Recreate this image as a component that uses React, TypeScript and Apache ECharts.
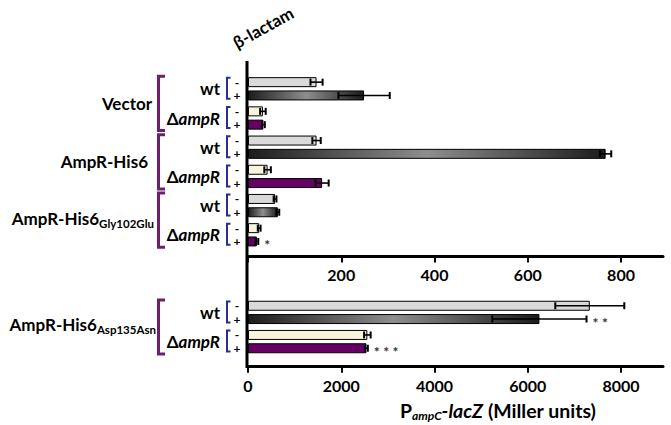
import React, { useEffect, useRef } from 'react';
import * as echarts from 'echarts';

// ---------- data ----------
const groups = ['Vector', 'AmpR-His6', 'AmpR-His6|Gly102Glu', 'AmpR-His6|Asp135Asn'];
const strains = ['wt', 'ΔampR'];
const topPairs = ['Vector wt', 'Vector ΔampR', 'AmpR-His6 wt', 'AmpR-His6 ΔampR', 'Gly102Glu wt', 'Gly102Glu ΔampR'];
const topMinus = [147, 32, 147, 42, 58, 24];
const topMinusErr = [13, 6, 9, 7, 3, 3];
const topPlus = [249, 33, 767, 159, 64, 19];
const topPlusErr = [55, 3, 12, 14, 3, 3];
const topPlusStars = ['', '', '', '', '', '*'];
const bottomPairs = ['Asp135Asn wt', 'Asp135Asn ΔampR'];
const bottomMinus = [7330, 2560];
const bottomMinusErr = [740, 70];
const bottomPlus = [6250, 2540];
const bottomPlusErr = [1010, 30];
const bottomPlusStars = ['* *', '* * *'];
const topTicks = [0, 200, 400, 600, 800];
const topTickLabels = [200, 400, 600, 800];
const bottomTicks = [0, 2000, 4000, 6000, 8000];
const topRange = { min: 0, max: 890 };
const bottomRange = { min: 0, max: 8900 };

// ---------- layout ----------
const LEFT = 248;
const WIDTH = 415;
const TOP_Y = 74.2;
const PAIR_H = 29.2;
const BOT_Y = 297.8;
const BAR_W = 10;
const HALF = (BAR_W * 1.33) / 2;
const FONT = 'Lato';

const darkGrad = () =>
  new echarts.graphic.LinearGradient(0, 0, 1, 0, [
    { offset: 0, color: '#1c1c1c' },
    { offset: 0.5, color: '#8e8e8e' },
    { offset: 1, color: '#1c1c1c' },
  ]);
const minusColor = (k: number) => (k % 2 === 0 ? '#d9d9d9' : '#f8f5dc');
const plusColor = (k: number) => (k % 2 === 0 ? darkGrad() : '#660066');

const barSeries = (vals: number[], colorFn: (k: number) => any, axis: number) => ({
  type: 'bar',
  xAxisIndex: axis,
  yAxisIndex: axis,
  barWidth: BAR_W,
  barGap: '33%',
  data: vals.map((v, i) => ({ value: v, itemStyle: { color: colorFn(i) } })),
  itemStyle: { borderColor: '#000', borderWidth: 1 },
  silent: true,
});

const errSeries = (vals: number[], errs: number[], sign: number, stars: string[] | null, axis: number) => ({
  type: 'custom',
  xAxisIndex: axis,
  yAxisIndex: axis,
  silent: true,
  z: 5,
  data: vals.map((v, i) => [i, v - errs[i], v + errs[i]]),
  encode: { x: [1, 2], y: 0 },
  renderItem: (params: any, api: any) => {
    const idx = api.value(0);
    const lo = api.coord([api.value(1), idx]);
    const hi = api.coord([api.value(2), idx]);
    const y = lo[1] + sign * HALF;
    const children: any[] = [
      { type: 'line', shape: { x1: lo[0], y1: y, x2: hi[0], y2: y }, style: { stroke: '#000', lineWidth: 1.6 } },
      { type: 'line', shape: { x1: lo[0], y1: y - 3.5, x2: lo[0], y2: y + 3.5 }, style: { stroke: '#000', lineWidth: 2 } },
      { type: 'line', shape: { x1: hi[0], y1: y - 3.5, x2: hi[0], y2: y + 3.5 }, style: { stroke: '#000', lineWidth: 2 } },
    ];
    const s = stars ? stars[params.dataIndex] : '';
    if (s) {
      children.push({
        type: 'text',
        x: hi[0] + 6,
        y: y + 3,
        style: { text: s, fill: '#333', fontSize: 14, fontWeight: 'bold', fontFamily: FONT, align: 'left', verticalAlign: 'middle' },
      });
    }
    return { type: 'group', children };
  },
});

export default function App() {
  const ref = useRef<HTMLDivElement>(null);
  useEffect(() => {
    if (!ref.current) return;
    const chart = echarts.init(ref.current, null, { renderer: 'svg' });

    const pcs: number[] = [];
    topPairs.forEach((_, k) => pcs.push(TOP_Y + PAIR_H * (k + 0.5)));
    bottomPairs.forEach((_, k) => pcs.push(BOT_Y + PAIR_H * (k + 0.5)));

    const textBase = { fill: '#000', fontFamily: FONT, fontWeight: 'bold', fontSize: 17 };
    const graphics: any[] = [];
    graphics.push({ type: 'line', shape: { x1: 247, y1: 61, x2: 247, y2: 368 }, style: { stroke: '#000', lineWidth: 3 } });
    graphics.push({
      type: 'text', x: 230, y: 36, rotation: (29 * Math.PI) / 180, z: 100,
      style: { text: 'β-lactam', fill: '#000', fontSize: 17, fontWeight: 'bold', fontFamily: FONT },
    });
    pcs.forEach((pc, k) => {
      const strain = strains[k % 2];
      graphics.push({
        type: 'text', x: 220, y: pc,
        style: strain === 'wt'
          ? { ...textBase, text: 'wt', align: 'right', verticalAlign: 'middle' }
          : {
              ...textBase, text: '{n|Δ}{i|ampR}', align: 'right', verticalAlign: 'middle',
              rich: {
                n: { fontFamily: FONT, fontWeight: 'bold', fontSize: 17, fill: '#000' },
                i: { fontFamily: FONT, fontWeight: 'bold', fontStyle: 'italic', fontSize: 17, fill: '#000' },
              },
            },
      });
      graphics.push({
        type: 'polyline',
        shape: { points: [[230.5, pc - 11], [227, pc - 11], [227, pc + 10], [230.5, pc + 10]] },
        style: { stroke: '#26308f', lineWidth: 2, fill: 'none' },
      });
      graphics.push({ type: 'text', x: 237, y: pc - HALF, style: { ...textBase, fontSize: 12, lineHeight: 9, text: '-', align: 'center', verticalAlign: 'middle' } });
      graphics.push({ type: 'text', x: 237, y: pc + HALF, style: { ...textBase, fontSize: 12, lineHeight: 9, text: '+', align: 'center', verticalAlign: 'middle' } });
    });
    const rights = [152, 148, 154, 156];
    const dy = [0, 0, -2, -3];
    groups.forEach((g, gi) => {
      const a = pcs[2 * gi];
      const b = pcs[2 * gi + 1];
      graphics.push({
        type: 'polyline',
        shape: { points: [[165, a - 12.5], [158.5, a - 12.5], [158.5, b + 12.5], [165, b + 12.5]] },
        style: { stroke: '#6b1f6e', lineWidth: 3, fill: 'none' },
      });
      const [main, sub] = g.split('|');
      graphics.push({
        type: 'text', x: rights[gi], y: (a + b) / 2 + dy[gi],
        style: sub
          ? {
              ...textBase, text: `{m|${main}}{s|${sub}}`, align: 'right', verticalAlign: 'middle',
              rich: {
                m: { fontFamily: FONT, fontWeight: 'bold', fontSize: 17, lineHeight: 22, fill: '#000' },
                s: { fontFamily: FONT, fontWeight: 'bold', fontSize: 11.5, lineHeight: 12, verticalAlign: 'bottom', fill: '#000' },
              },
            }
          : { ...textBase, text: main, align: 'right', verticalAlign: 'middle' },
      });
    });
    graphics.push({
      type: 'text', x: 498, y: 410,
      style: {
        ...textBase, text: '{m|P}{s|ampC}{i|-lacZ}{m| (Miller units)}', align: 'center', verticalAlign: 'middle',
        rich: {
          m: { fontFamily: FONT, fontWeight: 'bold', fontSize: 19.5, lineHeight: 22, fill: '#000' },
          i: { fontFamily: FONT, fontWeight: 'bold', fontStyle: 'italic', fontSize: 19.5, lineHeight: 22, fill: '#000' },
          s: { fontFamily: FONT, fontWeight: 'bold', fontStyle: 'italic', fontSize: 12, lineHeight: 12, verticalAlign: 'bottom', fill: '#000' },
        },
      },
    });

    const axisLabel = { fontFamily: FONT, fontWeight: 'bold', fontSize: 16, color: '#000' };
    chart.setOption({
      animation: false,
      grid: [
        { left: LEFT, width: WIDTH, top: TOP_Y, height: PAIR_H * topPairs.length },
        { left: LEFT, width: WIDTH, top: BOT_Y, height: PAIR_H * bottomPairs.length },
      ],
      xAxis: [
        {
          type: 'value', gridIndex: 0, ...topRange, offset: 7,
          splitLine: { show: false },
          axisLine: { show: true, lineStyle: { color: '#000', width: 3 } },
          axisTick: { show: true, length: 6, customValues: topTicks, lineStyle: { color: '#000', width: 2 } },
          axisLabel: { ...axisLabel, margin: 10, customValues: topTickLabels, formatter: (v: number) => String(v) },
        },
        {
          type: 'value', gridIndex: 1, ...bottomRange, offset: 10.5,
          splitLine: { show: false },
          axisLine: { show: true, lineStyle: { color: '#000', width: 3 } },
          axisTick: { show: true, length: 6, customValues: bottomTicks, lineStyle: { color: '#000', width: 2 } },
          axisLabel: { ...axisLabel, margin: 11, customValues: bottomTicks, formatter: (v: number) => String(v) },
        },
      ],
      yAxis: [
        { type: 'category', gridIndex: 0, data: topPairs, inverse: true, axisLine: { show: false }, axisTick: { show: false }, axisLabel: { show: false } },
        { type: 'category', gridIndex: 1, data: bottomPairs, inverse: true, axisLine: { show: false }, axisTick: { show: false }, axisLabel: { show: false } },
      ],
      series: [
        barSeries(topMinus, minusColor, 0),
        barSeries(topPlus, plusColor, 0),
        barSeries(bottomMinus, minusColor, 1),
        barSeries(bottomPlus, plusColor, 1),
        errSeries(topMinus, topMinusErr, -1, null, 0),
        errSeries(topPlus, topPlusErr, 1, topPlusStars, 0),
        errSeries(bottomMinus, bottomMinusErr, -1, null, 1),
        errSeries(bottomPlus, bottomPlusErr, 1, bottomPlusStars, 1),
      ],
      graphic: graphics,
    });
    return () => chart.dispose();
  }, []);
  return <div ref={ref} style={{ position: 'absolute', left: 0, top: 0, width: 671, height: 425, background: '#fff' }} />;
}
